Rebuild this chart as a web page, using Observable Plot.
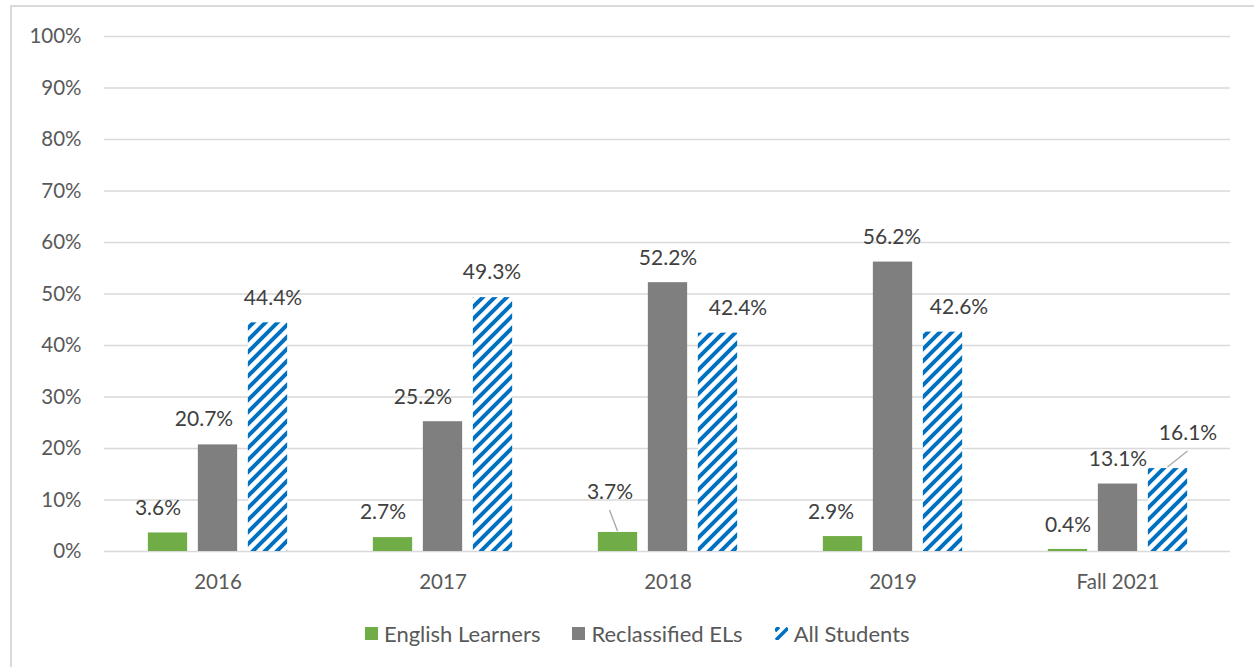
<!DOCTYPE html>
<html>
<head>
<meta charset="utf-8">
<script src="https://cdn.jsdelivr.net/npm/d3@7"></script>
<script src="https://cdn.jsdelivr.net/npm/@observablehq/plot@0.6"></script>
<style>
  body { margin: 0; background: #fff; font-family: Lato, "Open Sans", sans-serif; }
  #wrap { position: relative; width: 1254px; height: 667px; overflow: hidden; background: #fff; }
  #frame { position: absolute; left: 10px; top: 5px; width: 1400px; height: 800px;
           border-left: 2px solid #d9d9d9; border-top: 2px solid #d9d9d9; pointer-events: none; }
  #chart { position: absolute; left: 0; top: 0; }
  #legend { position: absolute; left: 365px; top: 620px; display: flex; align-items: center;
            font-size: 22px; color: #595959; white-space: nowrap; }
  .item { display: flex; align-items: center; margin-right: 32px; }
  .sw { width: 13px; height: 13px; margin-right: 6px; display: inline-block; }
</style>
</head>
<body>
<div id="wrap">
  <div id="chart"></div>
  <div id="frame"></div>
  <div id="legend"></div>
</div>
<script>
// ---- data ----
const years = ["2016", "2017", "2018", "2019", "Fall 2021"];
const englishLearners = [3.6, 2.7, 3.7, 2.9, 0.4];
const reclassifiedELs = [20.7, 25.2, 52.2, 56.2, 13.1];
const allStudents = [44.4, 49.3, 42.4, 42.6, 16.1];
const seriesNames = ["English Learners", "Reclassified ELs", "All Students"];
const yTicks = [0, 10, 20, 30, 40, 50, 60, 70, 80, 90, 100];

// ---- styling / layout ----
const seriesValues = [englishLearners, reclassifiedELs, allStudents];
const seriesFills = ["#70AD47", "#7F7F7F", "url(#hatchBlue)"];
const slotOffset = [-50, 0, 50];
const W = 1254, H = 600, mL = 104, mR = 24, mT = 36, mB = 49;
const band = (W - mL - mR) / years.length;
const barW = 39.5;
const half = (band - barW) / 2;
// label nudges in px (Excel label placement)
const labelDx = [[-10, -10, -8, -12, 0], [-14, -20, 0, -1, 0], [5, -1, 20, 16, 20]];
const labelDy = [[-25, -25, -40, -24, -24], [-26, -24, -24, -25, -25], [-25, -25, -25, -25, -35]];
const leaders = [[0, 2], [2, 4]];

const marks = [Plot.ruleY(yTicks, {stroke: "#d9d9d9", strokeWidth: 1.5})];
seriesValues.forEach((vals, s) => {
  const rows = years.map((year, i) => ({year, value: vals[i], series: seriesNames[s]}));
  marks.push(Plot.barY(rows, {
    x: "year", y: "value", fill: seriesFills[s],
    insetLeft: half + slotOffset[s], insetRight: half - slotOffset[s]
  }));
});
seriesValues.forEach((vals, s) => {
  years.forEach((year, i) => {
    marks.push(Plot.text([{year, value: vals[i]}], {
      x: "year", y: "value", text: d => d.value.toFixed(1) + "%",
      dx: slotOffset[s] + labelDx[s][i], dy: labelDy[s][i],
      fill: "#404040", fontSize: 21
    }));
  });
});
marks.push(function leaderLines(index, scales) {
  const g = d3.create("svg:g").attr("stroke", "#A6A6A6").attr("stroke-width", 1.3);
  const bw = scales.x.bandwidth ? scales.x.bandwidth() : band;
  for (const [s, i] of leaders) {
    const cx = scales.x(years[i]) + bw / 2 + slotOffset[s];
    const top = scales.y(seriesValues[s][i]);
    g.append("line")
      .attr("x1", cx).attr("y1", top - 1)
      .attr("x2", cx + labelDx[s][i]).attr("y2", top + labelDy[s][i] + 18);
  }
  return g.node();
});

const chart = Plot.plot({
  width: W, height: H,
  marginLeft: mL, marginRight: mR, marginTop: mT, marginBottom: mB,
  style: {fontFamily: "Lato, 'Open Sans', sans-serif", fontSize: "20.5px", color: "#595959", background: "transparent"},
  x: {domain: years, padding: 0, tickSize: 0, tickPadding: 23, label: null},
  y: {domain: [0, 100], ticks: yTicks, tickFormat: d => d + "%", tickSize: 0, tickPadding: 23, label: null},
  marks
});

d3.select(chart).insert("defs", ":first-child").html(`
  <pattern id="hatchBlue" patternUnits="userSpaceOnUse" width="12" height="12">
    <rect width="12" height="12" fill="#fff"/>
    <path d="M-3,3 L3,-3 M0,12 L12,0 M9,15 L15,9" stroke="#0070C0" stroke-width="4"/>
  </pattern>`);
document.getElementById("chart").appendChild(chart);

// legend
const legend = d3.select("#legend");
seriesNames.forEach((name, s) => {
  const item = legend.append("div").attr("class", "item");
  if (s < 2) {
    item.append("span").attr("class", "sw").style("background", seriesFills[s]);
  } else {
    item.append("span").attr("class", "sw").html(
      `<svg width="13" height="13" style="display:block"><rect width="13" height="13" fill="#fff"/>
       <path d="M0,4 L4,0 M1,13 L13,1" stroke="#0070C0" stroke-width="3.5"/></svg>`);
  }
  item.append("span").text(name);
});
</script>
</body>
</html>
